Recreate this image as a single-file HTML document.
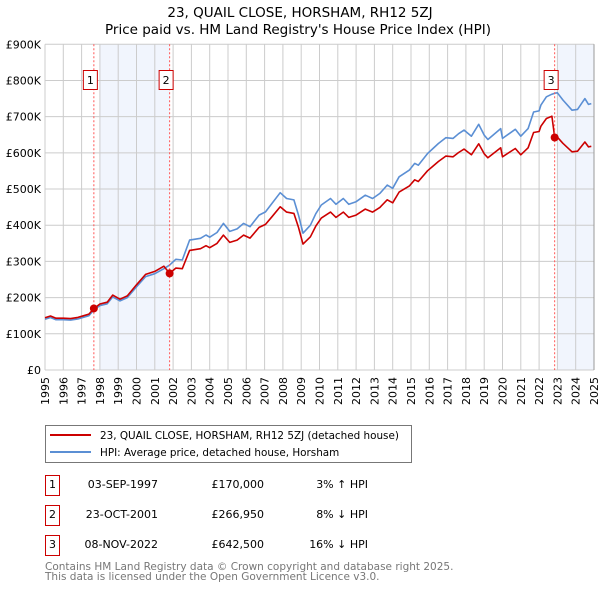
<!DOCTYPE html>
<html><head><meta charset="utf-8">
<style>
body{margin:0;background:#fff;}
svg{display:block;font-family:"DejaVu Sans","Liberation Sans",sans-serif;}
</style></head>
<body>
<svg id="chart" width="600" height="590" viewBox="0 0 600 590" xmlns="http://www.w3.org/2000/svg">
<text x="300" y="17" text-anchor="middle" font-size="13.5" fill="#000">23, QUAIL CLOSE, HORSHAM, RH12 5ZJ</text>
<text x="298" y="34" text-anchor="middle" font-size="13.5" fill="#000">Price paid vs. HM Land Registry's House Price Index (HPI)</text>
<g id="shade"></g>
<g id="grid"></g>
<g id="yaxis"></g>
<g id="xaxis"></g>
<g id="series"></g>
<g id="markers"></g>

<g>
<rect x="45.5" y="425.5" width="366" height="37" fill="#fff" stroke="#777" stroke-width="1"/>
<line x1="50" y1="435" x2="91" y2="435" stroke="#cc0000" stroke-width="2"/>
<text x="100" y="439" font-size="10.4">23, QUAIL CLOSE, HORSHAM, RH12 5ZJ (detached house)</text>
<line x1="50" y1="452" x2="91" y2="452" stroke="#5b8fd4" stroke-width="2"/>
<text x="100" y="456" font-size="10.4">HPI: Average price, detached house, Horsham</text>
</g>

<g font-size="11">
<g>
<rect x="45.5" y="475.5" width="14" height="20" fill="#fff" stroke="#cc0000"/>
<text x="52.5" y="488" text-anchor="middle">1</text>
<text x="158" y="488" text-anchor="end">03-SEP-1997</text>
<text x="264" y="488" text-anchor="end">£170,000</text>
<text x="368" y="488" text-anchor="end">3% ↑ HPI</text>
</g>
<g>
<rect x="45.5" y="505.5" width="14" height="20" fill="#fff" stroke="#cc0000"/>
<text x="52.5" y="518" text-anchor="middle">2</text>
<text x="158" y="518" text-anchor="end">23-OCT-2001</text>
<text x="264" y="518" text-anchor="end">£266,950</text>
<text x="368" y="518" text-anchor="end">8% ↓ HPI</text>
</g>
<g>
<rect x="45.5" y="535.5" width="14" height="20" fill="#fff" stroke="#cc0000"/>
<text x="52.5" y="548" text-anchor="middle">3</text>
<text x="158" y="548" text-anchor="end">08-NOV-2022</text>
<text x="264" y="548" text-anchor="end">£642,500</text>
<text x="368" y="548" text-anchor="end">16% ↓ HPI</text>
</g>
</g>
<text x="45" y="570" font-size="10.5" fill="#777">Contains HM Land Registry data © Crown copyright and database right 2025.</text>
<text x="45" y="580" font-size="10.5" fill="#777">This data is licensed under the Open Government Licence v3.0.</text>
</svg>
<script>
// HPI series (years, £K)
var hpiYears = [1995,1995.3,1995.6,1996,1996.4,1996.8,1997,1997.4,1997.67,1998,1998.4,1998.7,1999.1,1999.5,2000,2000.5,2001,2001.5,2001.81,2002.15,2002.5,2002.9,2003.5,2003.8,2004,2004.4,2004.75,2005.1,2005.5,2005.85,2006.2,2006.7,2007.05,2007.4,2007.85,2008.2,2008.6,2008.85,2009.1,2009.5,2009.8,2010.1,2010.6,2010.9,2011.3,2011.6,2012,2012.5,2012.9,2013.3,2013.7,2014,2014.35,2014.9,2015.2,2015.4,2015.9,2016.2,2016.5,2016.9,2017.3,2017.6,2017.9,2018.3,2018.7,2019,2019.2,2019.9,2020,2020.7,2021,2021.4,2021.7,2022,2022.1,2022.4,2022.7,2022.85,2023,2023.3,2023.8,2024.1,2024.5,2024.7,2024.85];
var hpiValues = [140,145,139,139,138,141,144,150,166,178,183,202,191,200,230,258,266,280,290,306,304,359,364,373,367,380,405,383,390,405,396,428,437,460,490,474,470,428,378,400,432,456,474,458,474,458,465,483,474,488,511,502,534,552,571,566,598,612,626,642,640,653,663,646,679,649,637,667,640,665,646,667,713,716,732,755,762,765,766,746,718,720,750,734,736];
// Sales
var saleLabels = ["1","2","3"];
var saleYears = [1997.67,2001.81,2022.85];
var salePrices = [170,266.95,642.5];
var yTicks = [0,100,200,300,400,500,600,700,800,900];
var yTickLabels = ["£0","£100K","£200K","£300K","£400K","£500K","£600K","£700K","£800K","£900K"];
var xTicks = [1995,1996,1997,1998,1999,2000,2001,2002,2003,2004,2005,2006,2007,2008,2009,2010,2011,2012,2013,2014,2015,2016,2017,2018,2019,2020,2021,2022,2023,2024,2025];
var shadeRanges = [[1998,2001.81],[2023,2025]];

var NS="http://www.w3.org/2000/svg";
var X0=45,X1=594,Y0=370,Y1=44.3;
function sx(y){return X0+(y-1995)/(2025-1995)*(X1-X0);}
function sy(v){return Y0-v/900*(Y0-Y1);}
function mk(tag,attrs,parent){var e=document.createElementNS(NS,tag);for(var k in attrs)e.setAttribute(k,attrs[k]);parent.appendChild(e);return e;}
function hpiAt(t){
  if(t<=hpiYears[0])return hpiValues[0];
  for(var i=1;i<hpiYears.length;i++){if(t<=hpiYears[i]){var f=(t-hpiYears[i-1])/(hpiYears[i]-hpiYears[i-1]);return hpiValues[i-1]+f*(hpiValues[i]-hpiValues[i-1]);}}
  return hpiValues[hpiValues.length-1];
}
var shade=document.getElementById('shade');
shadeRanges.forEach(function(r){
  var e=mk('rect',{x:sx(r[0]),y:Y1,width:sx(r[1])-sx(r[0]),height:Y0-Y1,fill:'#eef3fc',opacity:0.8},shade);
  
  
});
var grid=document.getElementById('grid');
xTicks.forEach(function(t){var e=mk('line',{x1:sx(t),x2:sx(t),y1:Y1,y2:Y0,stroke:'#cccccc','stroke-width':1},grid);
  
  });
yTicks.forEach(function(t){var e=mk('line',{x1:X0,x2:X1,y1:sy(t),y2:sy(t),stroke:'#cccccc','stroke-width':1},grid);
  
  });
var ya=document.getElementById('yaxis');
yTicks.forEach(function(t,i){var e=mk('text',{x:X0-4,y:sy(t)+4,'text-anchor':'end','font-size':11},ya);e.textContent=yTickLabels[i];
  
  });
var xa=document.getElementById('xaxis');
xTicks.forEach(function(t){
  var s=String(t), ox=(sx(t)+4).toFixed(1), xs=[], ys=[];
  for(var k=0;k<s.length;k++){xs.push(ox);ys.push((405-7*k).toFixed(1));}
  var e=mk('text',{x:xs.join(' '),y:ys.join(' '),rotate:'-90','font-size':11},xa);
  e.textContent=s;
  
  
});
// red series: sale price indexed by HPI
var ratios=saleYears.map(function(y,i){return salePrices[i]/hpiAt(y);});
var pre=1.03;
var series=document.getElementById('series');
var redPts=[],bluePts=[];
var ts=hpiYears.slice();saleYears.forEach(function(y){ts.push(y);ts.push(y+0.0001);});ts.sort(function(a,b){return a-b;});
ts.forEach(function(t){
  var h=hpiAt(t);bluePts.push(sx(t).toFixed(1)+','+sy(h).toFixed(1));
  var r=pre;for(var i=0;i<saleYears.length;i++){if(t>=saleYears[i])r=ratios[i];}
  redPts.push(sx(t).toFixed(1)+','+sy(h*r).toFixed(1));
});
var b=mk('polyline',{points:bluePts.join(' '),fill:'none',stroke:'#5b8fd4','stroke-width':1.6,'stroke-linejoin':'round'},series);


var r=mk('polyline',{points:redPts.join(' '),fill:'none',stroke:'#cc0000','stroke-width':1.6,'stroke-linejoin':'round'},series);


var mg=document.getElementById('markers');
saleYears.forEach(function(y,i){
  var x=sx(y);
  var l=mk('line',{x1:x,x2:x,y1:Y1,y2:Y0,stroke:'#ff5555','stroke-width':1,'stroke-dasharray':'2,2'},mg);
  
  
  var bx=mk('rect',{x:x-10.5,y:70.5,width:14,height:19,fill:'#fff',stroke:'#cc0000'},mg);
  
  
  var tx=mk('text',{x:x-3.5,y:84,'text-anchor':'middle','font-size':11},mg);tx.textContent=saleLabels[i];
  
  
  var c=mk('circle',{cx:x,cy:sy(salePrices[i]),r:4,fill:'#cc0000'},mg);
  
  
});
var fr=mk('line',{x1:X1,x2:X1,y1:Y1,y2:Y0,stroke:'#999','stroke-width':1},mg);


</script>
</body></html>
